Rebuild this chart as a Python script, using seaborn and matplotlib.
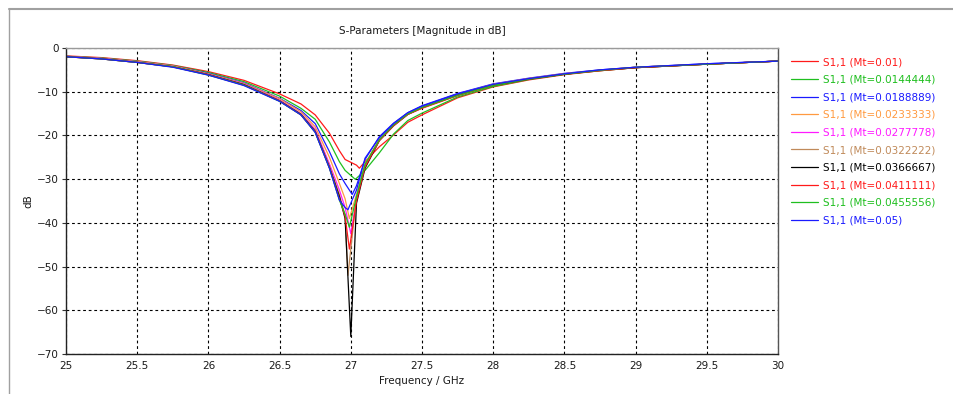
import matplotlib
matplotlib.use("Agg")
import matplotlib.pyplot as plt
from matplotlib.lines import Line2D
import pandas as pd
import seaborn as sns

# Frequency grid (GHz) shared by all sweeps, away from the resonance
freq_ghz = [25.0, 25.25, 25.5, 25.75, 26.0, 26.25, 26.5, 26.65, 26.75, 26.85, 26.92, 26.96,
            27.04, 27.1, 27.2, 27.3, 27.4, 27.5, 27.75, 28.0, 28.25, 28.5, 28.75, 29.0, 29.5, 30.0]

# |S11| in dB for each Mt value of the parameter sweep
s11_mt_0010 = [-1.8, -2.2, -2.9, -3.9, -5.4, -7.4, -10.5, -12.8, -15.3, -19.5, -23.5, -25.5,
               -26.8, -26.0, -22.6, -19.9, -17.0, -15.3, -11.4, -8.9, -7.3, -6.1, -5.2, -4.5, -3.7, -3.0]
s11_mt_0144 = [-1.9, -2.3, -3.0, -4.0, -5.6, -7.7, -11.0, -13.8, -16.3, -21.5, -26.0, -28.0,
               -29.8, -28.0, -24.0, -19.7, -16.6, -14.9, -11.2, -8.8, -7.2, -6.0, -5.2, -4.5, -3.7, -3.0]
s11_mt_0189 = [-1.9, -2.4, -3.1, -4.1, -5.8, -8.0, -11.5, -14.3, -17.3, -23.7, -28.8, -31.0,
               -31.5, -25.5, -20.3, -17.2, -14.8, -13.2, -10.4, -8.2, -6.9, -5.8, -5.0, -4.4, -3.6, -3.0]
s11_mt_0233 = [-1.9, -2.4, -3.1, -4.1, -5.9, -8.1, -11.6, -14.6, -18.0, -25.0, -31.0, -34.5,
               -33.5, -26.5, -20.8, -17.5, -15.0, -13.5, -10.6, -8.3, -7.0, -5.9, -5.1, -4.4, -3.7, -3.0]
s11_mt_0278 = [-2.0, -2.4, -3.2, -4.2, -6.0, -8.2, -11.9, -15.0, -18.6, -26.5, -32.5, -36.5,
               -34.5, -27.0, -21.0, -17.6, -15.1, -13.6, -10.7, -8.4, -7.0, -5.9, -5.1, -4.4, -3.7, -3.0]
s11_mt_0322 = [-2.0, -2.4, -3.2, -4.2, -6.0, -8.3, -12.0, -15.1, -18.9, -27.0, -33.5, -38.5,
               -34.0, -26.8, -21.0, -17.6, -15.1, -13.6, -10.7, -8.4, -7.0, -5.9, -5.1, -4.4, -3.7, -3.0]
s11_mt_0367 = [-2.0, -2.5, -3.3, -4.3, -6.1, -8.4, -12.1, -15.2, -19.1, -27.3, -34.0, -39.0,
               -35.5, -27.5, -21.2, -17.8, -15.2, -13.7, -10.8, -8.5, -7.1, -6.0, -5.1, -4.5, -3.7, -3.0]
s11_mt_0411 = [-2.0, -2.5, -3.3, -4.3, -6.1, -8.5, -12.1, -15.3, -19.2, -27.4, -34.5, -38.5,
               -35.0, -27.2, -21.2, -17.8, -15.2, -13.8, -10.9, -8.5, -7.1, -6.0, -5.2, -4.5, -3.7, -3.0]
s11_mt_0456 = [-2.0, -2.5, -3.3, -4.3, -6.2, -8.5, -12.2, -15.3, -19.3, -27.5, -34.8, -38.0,
               -34.0, -26.6, -21.0, -17.6, -15.1, -13.6, -10.8, -8.5, -7.1, -6.0, -5.1, -4.4, -3.7, -3.0]
s11_mt_0500 = [-2.0, -2.5, -3.3, -4.4, -6.2, -8.6, -12.2, -15.3, -19.3, -27.5, -34.8, -36.5,
               -32.5, -25.2, -20.5, -17.3, -14.8, -13.3, -10.5, -8.3, -7.0, -5.9, -5.0, -4.4, -3.6, -3.0]

# Resonance minimum of each sweep (frequency in GHz, level in dB)
dip_freq_ghz = [27.06, 27.03, 27.01, 26.99, 27.0, 26.98, 27.0, 26.99, 26.99, 26.98]
dip_db = [-27.5, -30.0, -33.5, -39.0, -42.5, -52.0, -66.0, -46.0, -41.0, -37.0]

series_labels = ["S1,1 (Mt=0.01)", "S1,1 (Mt=0.0144444)", "S1,1 (Mt=0.0188889)",
                 "S1,1 (Mt=0.0233333)", "S1,1 (Mt=0.0277778)", "S1,1 (Mt=0.0322222)",
                 "S1,1 (Mt=0.0366667)", "S1,1 (Mt=0.0411111)", "S1,1 (Mt=0.0455556)",
                 "S1,1 (Mt=0.05)"]
series_colors = ["#ff1a1a", "#1fbf1f", "#1a1aff", "#ff9a40", "#ff1aff",
                 "#c08a5a", "#000000", "#ff1a1a", "#1fbf1f", "#1a1aff"]

x_ticks = [25, 25.5, 26, 26.5, 27, 27.5, 28, 28.5, 29, 29.5, 30]
x_tick_labels = ["25", "25.5", "26", "26.5", "27", "27.5", "28", "28.5", "29", "29.5", "30"]
y_ticks = [0, -10, -20, -30, -40, -50, -60, -70]

all_series = [s11_mt_0010, s11_mt_0144, s11_mt_0189, s11_mt_0233, s11_mt_0278,
              s11_mt_0322, s11_mt_0367, s11_mt_0411, s11_mt_0456, s11_mt_0500]

rows = []
for label, values, fd, dd in zip(series_labels, all_series, dip_freq_ghz, dip_db):
    for f, v in zip(freq_ghz, values):
        rows.append({"freq": f, "db": v, "series": label})
    rows.append({"freq": fd, "db": dd, "series": label})
df = pd.DataFrame(rows).sort_values(["series", "freq"])

sns.set_theme(style="white")
plt.rcParams["font.family"] = ["DejaVu Sans"]
text_color = "#1a1a1a"

fig = plt.figure(figsize=(9.54, 3.94), dpi=100)
ax = fig.add_axes([66 / 954, 1 - 354 / 394, 712 / 954, 306 / 394])

sns.lineplot(data=df, x="freq", y="db", hue="series", hue_order=series_labels,
             palette=dict(zip(series_labels, series_colors)), estimator=None,
             sort=True, linewidth=0.9, ax=ax)

ax.set_xlim(25, 30)
ax.set_ylim(-70, 0)
ax.set_xticks(x_ticks)
ax.set_xticklabels(x_tick_labels)
ax.set_yticks(y_ticks)
ax.grid(True, color="black", linestyle=(0, (2.5, 2.5)), linewidth=0.8)
ax.tick_params(axis="x", length=0, pad=5, labelsize=7.5, colors=text_color)
ax.tick_params(axis="y", length=3, width=0.8, color="#333333", pad=2,
               labelsize=7.5, labelcolor=text_color, left=True)

for side, col in [("left", "#222222"), ("bottom", "#222222"),
                  ("top", "#9a9a9a"), ("right", "#555555")]:
    ax.spines[side].set_visible(True)
    ax.spines[side].set_color(col)
    ax.spines[side].set_linewidth(1.0)

ax.set_xlabel("Frequency / GHz", fontsize=7.5, color=text_color, labelpad=4)
ax.set_ylabel("dB", fontsize=7.5, color=text_color, labelpad=3)
ax.set_title("S-Parameters [Magnitude in dB]", fontsize=7.5, color=text_color, pad=10)

handles, labels = ax.get_legend_handles_labels()
ax.legend(handles, labels, loc="upper left", bbox_to_anchor=(1.012, 0.984),
          frameon=False, fontsize=7.5, labelcolor="linecolor", handlelength=2.6,
          handletextpad=0.5, labelspacing=0.73, borderaxespad=0.0)

# Window border
fig.add_artist(Line2D([9.5 / 954, 1.0], [1 - 8.5 / 394, 1 - 8.5 / 394],
                      transform=fig.transFigure, color="#a0a0a0", linewidth=1.5))
fig.add_artist(Line2D([9.5 / 954, 9.5 / 954], [0.0, 1 - 8.5 / 394],
                      transform=fig.transFigure, color="#a0a0a0", linewidth=1.0))

fig.savefig("out.png", dpi=100, facecolor="white")
